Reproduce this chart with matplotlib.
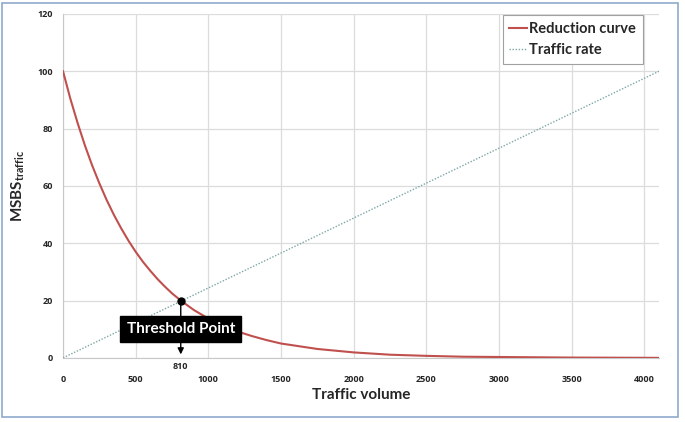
import matplotlib.pyplot as plt
from matplotlib.patches import Rectangle

plt.rcParams['font.family'] = ['Lato', 'DejaVu Sans']
plt.rcParams['font.weight'] = 'bold'
plt.rcParams['mathtext.fontset'] = 'custom'
plt.rcParams['mathtext.rm'] = 'Lato:bold'
plt.rcParams['mathtext.bf'] = 'Lato:bold'

# reduction curve
volume = [0, 50, 100, 150, 200, 250, 300, 350, 400, 450, 500, 550, 600, 650,
          700, 750, 810, 900, 1000, 1100, 1200, 1300, 1400, 1500, 1750, 2000,
          2250, 2500, 2750, 3000, 3500, 4100]
reduction = [100, 90.5, 82.0, 74.2, 67.2, 60.9, 55.1, 49.9, 45.2, 40.9, 37.0,
             33.5, 30.4, 27.5, 24.9, 22.5, 20.0, 16.7, 13.7, 11.2, 9.2, 7.6,
             6.2, 5.0, 3.1, 1.9, 1.1, 0.7, 0.4, 0.3, 0.1, 0.0]

# traffic rate (straight line)
rate_x = [0, 4100]
rate_y = [0, 100]

threshold_x = 810
threshold_y = 19.8

xticks = [0, 500, 1000, 1500, 2000, 2500, 3000, 3500, 4000]
yticks = [0, 20, 40, 60, 80, 100, 120]

fig = plt.figure(figsize=(6.85, 4.22), dpi=100)
ax = fig.add_axes([0.092, 0.152, 0.870, 0.815])

ax.plot(volume, reduction, color='#c0504d', lw=1.5, label='Reduction curve', zorder=3)
ax.plot(rate_x, rate_y, color='#7fa6a6', lw=1.0, ls=(0, (1, 1.2)), label='Traffic rate', zorder=3)

ax.set_xlim(0, 4100)
ax.set_ylim(0, 120)
ax.set_xticks(xticks)
ax.set_yticks(yticks)
ax.grid(True, color='#dcdcdc', lw=0.9)
ax.set_axisbelow(True)
for s in ['top', 'right']:
    ax.spines[s].set_visible(False)
for s in ['left', 'bottom']:
    ax.spines[s].set_color('#c8c8c8')
ax.tick_params(length=0, labelsize=6.5, colors='#262626')
ax.tick_params(axis='x', pad=12)
ax.tick_params(axis='y', pad=7)
for lab in ax.get_xticklabels() + ax.get_yticklabels():
    lab.set_fontfamily('Open Sans')
    lab.set_fontweight('bold')

ax.set_xlabel('Traffic volume', fontsize=11, fontweight='bold', color='#262626', labelpad=3)
ax.set_ylabel(r'MSBS$_{\mathrm{traffic}}$', fontsize=11, fontweight='bold', color='#262626', labelpad=8)

leg = ax.legend(loc='upper right', bbox_to_anchor=(0.975, 1.0), fancybox=False,
                framealpha=1, edgecolor='#a0a0a0', handlelength=1.2,
                handletextpad=0.15, borderpad=0.45, labelspacing=0.5,
                borderaxespad=0.1, prop={'weight': 'bold', 'size': 10.5})
leg.get_frame().set_linewidth(0.8)
for t in leg.get_texts():
    t.set_color('#262626')

# threshold annotation
ax.annotate('', xy=(threshold_x, 1.2), xytext=(threshold_x, threshold_y),
            arrowprops=dict(arrowstyle='-|>', color='black', lw=1.0,
                            mutation_scale=9, shrinkA=0, shrinkB=0), zorder=4)
ax.plot([threshold_x], [threshold_y], 'o', color='black', ms=5, zorder=6)
ax.text(threshold_x, 10, 'Threshold Point', ha='center', va='center',
        fontsize=11, fontweight='bold', color='white', zorder=5,
        bbox=dict(boxstyle='square,pad=0.4', fc='black', ec='black'))
ax.text(threshold_x, -3.0, str(threshold_x), ha='center', va='center',
        fontsize=6.5, fontweight='bold', family='Open Sans', color='#262626',
        clip_on=False)

# outer chart frame
fig.patches.append(Rectangle((2 / 685, 5 / 422), 676 / 685, 414 / 422,
                             transform=fig.transFigure, fill=False,
                             ec='#8eaacb', lw=1.2))

fig.savefig('out.png', dpi=100)
